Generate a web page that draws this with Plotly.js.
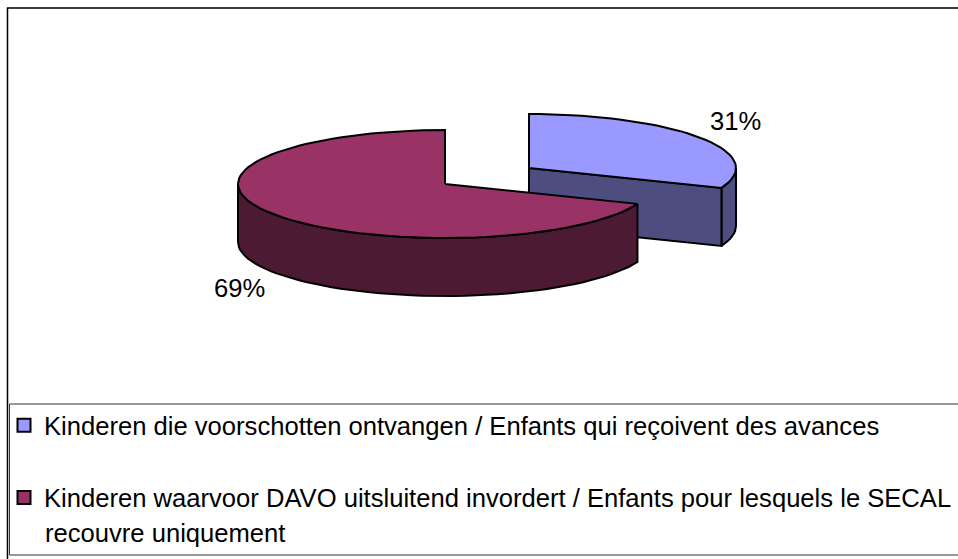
<!DOCTYPE html>
<html><head><meta charset="utf-8">
<script src="https://cdn.plot.ly/plotly-3.0.1.min.js"></script>
<style>html,body{margin:0;padding:0;background:#fff;overflow:hidden}</style>
</head><body><div id="chart" style="width:958px;height:559px"></div>
<script>
const seriesNames = [
  "Kinderen die voorschotten ontvangen / Enfants qui reçoivent des avances",
  "Kinderen waarvoor DAVO uitsluitend invordert / Enfants pour lesquels le SECAL"
];
const continuation = "recouvre uniquement";
const shares = [31, 69];
const topColors = ["#9999FF", "#993366"];
const sideColors = ["#4D4D80", "#4D1A33"];

const centers = [[529, 168], [445, 184]];
const RX = 207, RY = 54, DEPTH = 58, LINE = "#000", LW = 2;
const FONT = "Liberation Sans, Arial, sans-serif", FS = 25.6;

const total = shares[0] + shares[1];
const endDeg = 360 * shares[0] / total;          // clockwise from 12 o'clock, blue runs 0 → endDeg
function pt(c, deg, dz) {
  const a = deg * Math.PI / 180;
  return [c[0] + RX * Math.sin(a), c[1] - RY * Math.cos(a) + (dz || 0)];
}
function arc(c, a0, a1, dz) {
  const out = [], n = Math.max(2, Math.ceil(Math.abs(a1 - a0) / 3));
  for (let i = 0; i <= n; i++) out.push(pt(c, a0 + (a1 - a0) * i / n, dz));
  return out;
}
function poly(points, color) {
  const closed = points.concat([points[0]]);
  return {type: "scatter", mode: "lines", x: closed.map(p => p[0]), y: closed.map(p => p[1]),
    fill: "toself", fillcolor: color, line: {color: LINE, width: LW, shape: "linear"},
    hoverinfo: "skip", showlegend: false};
}
const cB = centers[0], cM = centers[1];
const traces = [];
traces.push(poly(arc(cB, 90, endDeg, 0).concat(arc(cB, endDeg, 90, DEPTH)), sideColors[0]));
traces.push(poly([cB, pt(cB, endDeg), pt(cB, endDeg, DEPTH), [cB[0], cB[1] + DEPTH]], sideColors[0]));
traces.push(poly([cB].concat(arc(cB, 0, endDeg, 0)), topColors[0]));
traces.push(poly(arc(cM, endDeg, 270, 0).concat(arc(cM, 270, endDeg, DEPTH)), sideColors[1]));
traces.push(poly([cM].concat(arc(cM, endDeg, 360, 0)), topColors[1]));
seriesNames.forEach((n, i) => traces.push({
  type: "scatter", mode: "markers", x: [null], y: [null], name: n, legendgroup: "g" + i,
  marker: {symbol: "square", size: 13, color: topColors[i], line: {color: "#000", width: 2}},
  hoverinfo: "skip"
}));

const layout = {
  width: 958, height: 559, margin: {l: 0, r: 0, t: 0, b: 0},
  paper_bgcolor: "#fff", plot_bgcolor: "#fff",
  font: {family: FONT, size: FS, color: "#000"},
  xaxis: {range: [0, 958], visible: false, fixedrange: true},
  yaxis: {range: [559, 0], visible: false, fixedrange: true},
  showlegend: true,
  legend: {x: 4 / 958, xanchor: "left", y: 1 - 402 / 559, yanchor: "top", bgcolor: "rgba(0,0,0,0)",
    borderwidth: 0, font: {family: FONT, size: FS, color: "#000"},
    traceorder: "grouped", tracegroupgap: 36, itemclick: false, itemdoubleclick: false},
  shapes: [
    {type: "path", path: "M7.5,559 L7.5,8 L958,8", line: {color: "#000", width: 1.5}},
    {type: "rect", x0: 9.5, x1: 960, y0: 404, y1: 555, line: {color: "#333", width: 1}}
  ],
  annotations: [
    {x: 735, y: 121, text: shares[0] + "%", showarrow: false, xanchor: "center", yanchor: "middle"},
    {x: 239, y: 288, text: shares[1] + "%", showarrow: false, xanchor: "center", yanchor: "middle"},
    {x: 43, y: 533, text: continuation, showarrow: false, xanchor: "left", yanchor: "middle"}
  ]
};
Plotly.newPlot("chart", traces, layout, {displayModeBar: false});
</script></body></html>
